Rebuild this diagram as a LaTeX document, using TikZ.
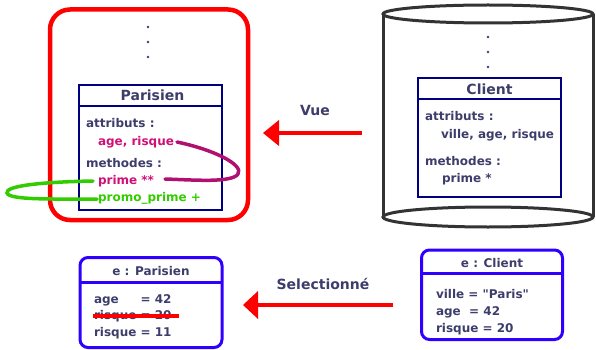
\documentclass[tikz,border=0pt]{standalone}
\usepackage{fontspec}
\setmainfont{DejaVu Sans}
\usepackage{tikz}

\definecolor{ink}{RGB}{61,61,107}
\definecolor{navy}{RGB}{0,0,128}
\definecolor{magenta}{RGB}{208,16,120}
\definecolor{plum}{RGB}{176,16,112}
\definecolor{lime}{RGB}{51,204,0}
\definecolor{royal}{RGB}{48,0,255}
\definecolor{cylgray}{RGB}{51,51,51}

\begin{document}
\begin{tikzpicture}[x=1pt,y=-1pt]
    \tikzstyle{every node}+=[inner sep=0pt, outer sep=0pt, text=ink, font=\bfseries\fontsize{12}{14}\selectfont]
    \tikzstyle{txt}=[anchor=base west]
    \tikzstyle{big}=[anchor=base, font=\bfseries\fontsize{14}{16}\selectfont]
    \tikzstyle{small}=[anchor=base, font=\bfseries\fontsize{12}{14}\selectfont]
    \tikzstyle{classbox}=[draw=navy, line width=1.2, rectangle]
    \tikzstyle{objbox}=[draw=royal, line width=3, rectangle, rounded corners=8]
    \useasboundingbox (0,0) rectangle (596,350);

    % vue (red frame)
    \node [draw=red, line width=4.5, rounded corners=20, minimum width=198, minimum height=210.5] (vue) at (149,114.75) {};
    \fill [ink] (148,27) circle (1.3);
    \fill [ink] (148,42) circle (1.3);
    \fill [ink] (148,57) circle (1.3);
    \node [classbox, minimum width=143, minimum height=125] (parisien) at (150.5,147.5) {};
    \draw [navy, line width=1.2] ([yshift=-21pt]parisien.north west) -- ([yshift=-21pt]parisien.north east);
    \node [big] (parTitle) at (152.5,101) {Parisien};
    \node [txt] (parAttr) at (86,128) {attributs :};
    \node [txt, text=magenta] (parAge) at (98,145) {age, risque};
    \node [txt] (parMeth) at (86,167) {methodes :};
    \node [txt, text=magenta] (parPrime) at (98,184) {prime **};
    \node [txt, text=lime] (parPromo) at (98,201) {promo\_prime +};
    \draw [plum, line width=3.5, line cap=round] (177,142) .. controls (215,150) and (244,165) .. (238,174) .. controls (232,183) and (195,180) .. (165,179);
    \draw [lime, line width=3.5, line cap=round] (93,181) .. controls (40,182) and (5,186) .. (7,193) .. controls (9,200) and (50,199) .. (97,199);

    % table (cylinder)
    \draw [cylgray, line width=3] (488,14) ellipse (105 and 9);
    \draw [cylgray, line width=3] (488,217) ellipse (105 and 10);
    \draw [cylgray, line width=3] (383,14) -- (383,217);
    \draw [cylgray, line width=3] (593,14) -- (593,217);
    \fill [ink] (488,37) circle (1.3);
    \fill [ink] (488,52) circle (1.3);
    \fill [ink] (488,67) circle (1.3);
    \node [classbox, minimum width=143, minimum height=119] (client) at (489.5,137.5) {};
    \draw [navy, line width=1.2] ([yshift=-21pt]client.north west) -- ([yshift=-21pt]client.north east);
    \node [big] (cliTitle) at (489.5,95) {Client};
    \node [txt] (cliAttr) at (425,121) {attributs :};
    \node [txt] (cliVille) at (441,138) {ville, age, risque};
    \node [txt] (cliMeth) at (425,165) {methodes :};
    \node [txt] (cliPrime) at (442,182) {prime *};

    % Vue arrow
    \coordinate (vueTail) at (362,133);
    \coordinate (vueTip) at (263,133);
    \draw [red, line width=3.5] (vueTail) -- ([xshift=14pt]vueTip);
    \fill [red] (vueTip) -- ++(16,-13) -- ++(0,26) -- cycle;
    \node [big] (vueLabel) at (315,115) {Vue};

    % objets
    \node [objbox, minimum width=142, minimum height=90] (eParisien) at (151,302.5) {};
    \draw [royal, line width=3] ([yshift=-24.5pt]eParisien.north west) -- ([yshift=-24.5pt]eParisien.north east);
    \node [small] (epTitle) at (151,275) {e : Parisien};
    \node [txt] (epAge) at (94,303) {\makebox[46.6pt][l]{age}= 42};
    \node [txt] (epOld) at (94,319) {risque = 20};
    \node [txt] (epNew) at (94,336) {risque = 11};
    \coordinate (strikeA) at (93,316);
    \coordinate (strikeB) at (179,316);
    \draw [red, line width=3.2] (strikeA) -- (strikeB);

    \node [objbox, minimum width=141, minimum height=89.5] (eClient) at (492,294.75) {};
    \draw [royal, line width=3] ([yshift=-23.5pt]eClient.north west) -- ([yshift=-23.5pt]eClient.north east);
    \node [small] (ecTitle) at (492,267) {e : Client};
    \node [txt] (ecVille) at (436,298) {ville = \textquotedbl Paris\textquotedbl};
    \node [txt] (ecAge) at (436,315) {age~ = 42};
    \node [txt] (ecRisque) at (436,332) {risque = 20};

    % Selectionne arrow
    \coordinate (selTail) at (393,305);
    \coordinate (selTip) at (243,305);
    \draw [red, line width=3.5] (selTail) -- ([xshift=12pt]selTip);
    \fill [red] (selTip) -- ++(15,-14) -- ++(0,28) -- cycle;
    \node [big] (selLabel) at (323,289) {Selectionné};
\end{tikzpicture}
\end{document}
